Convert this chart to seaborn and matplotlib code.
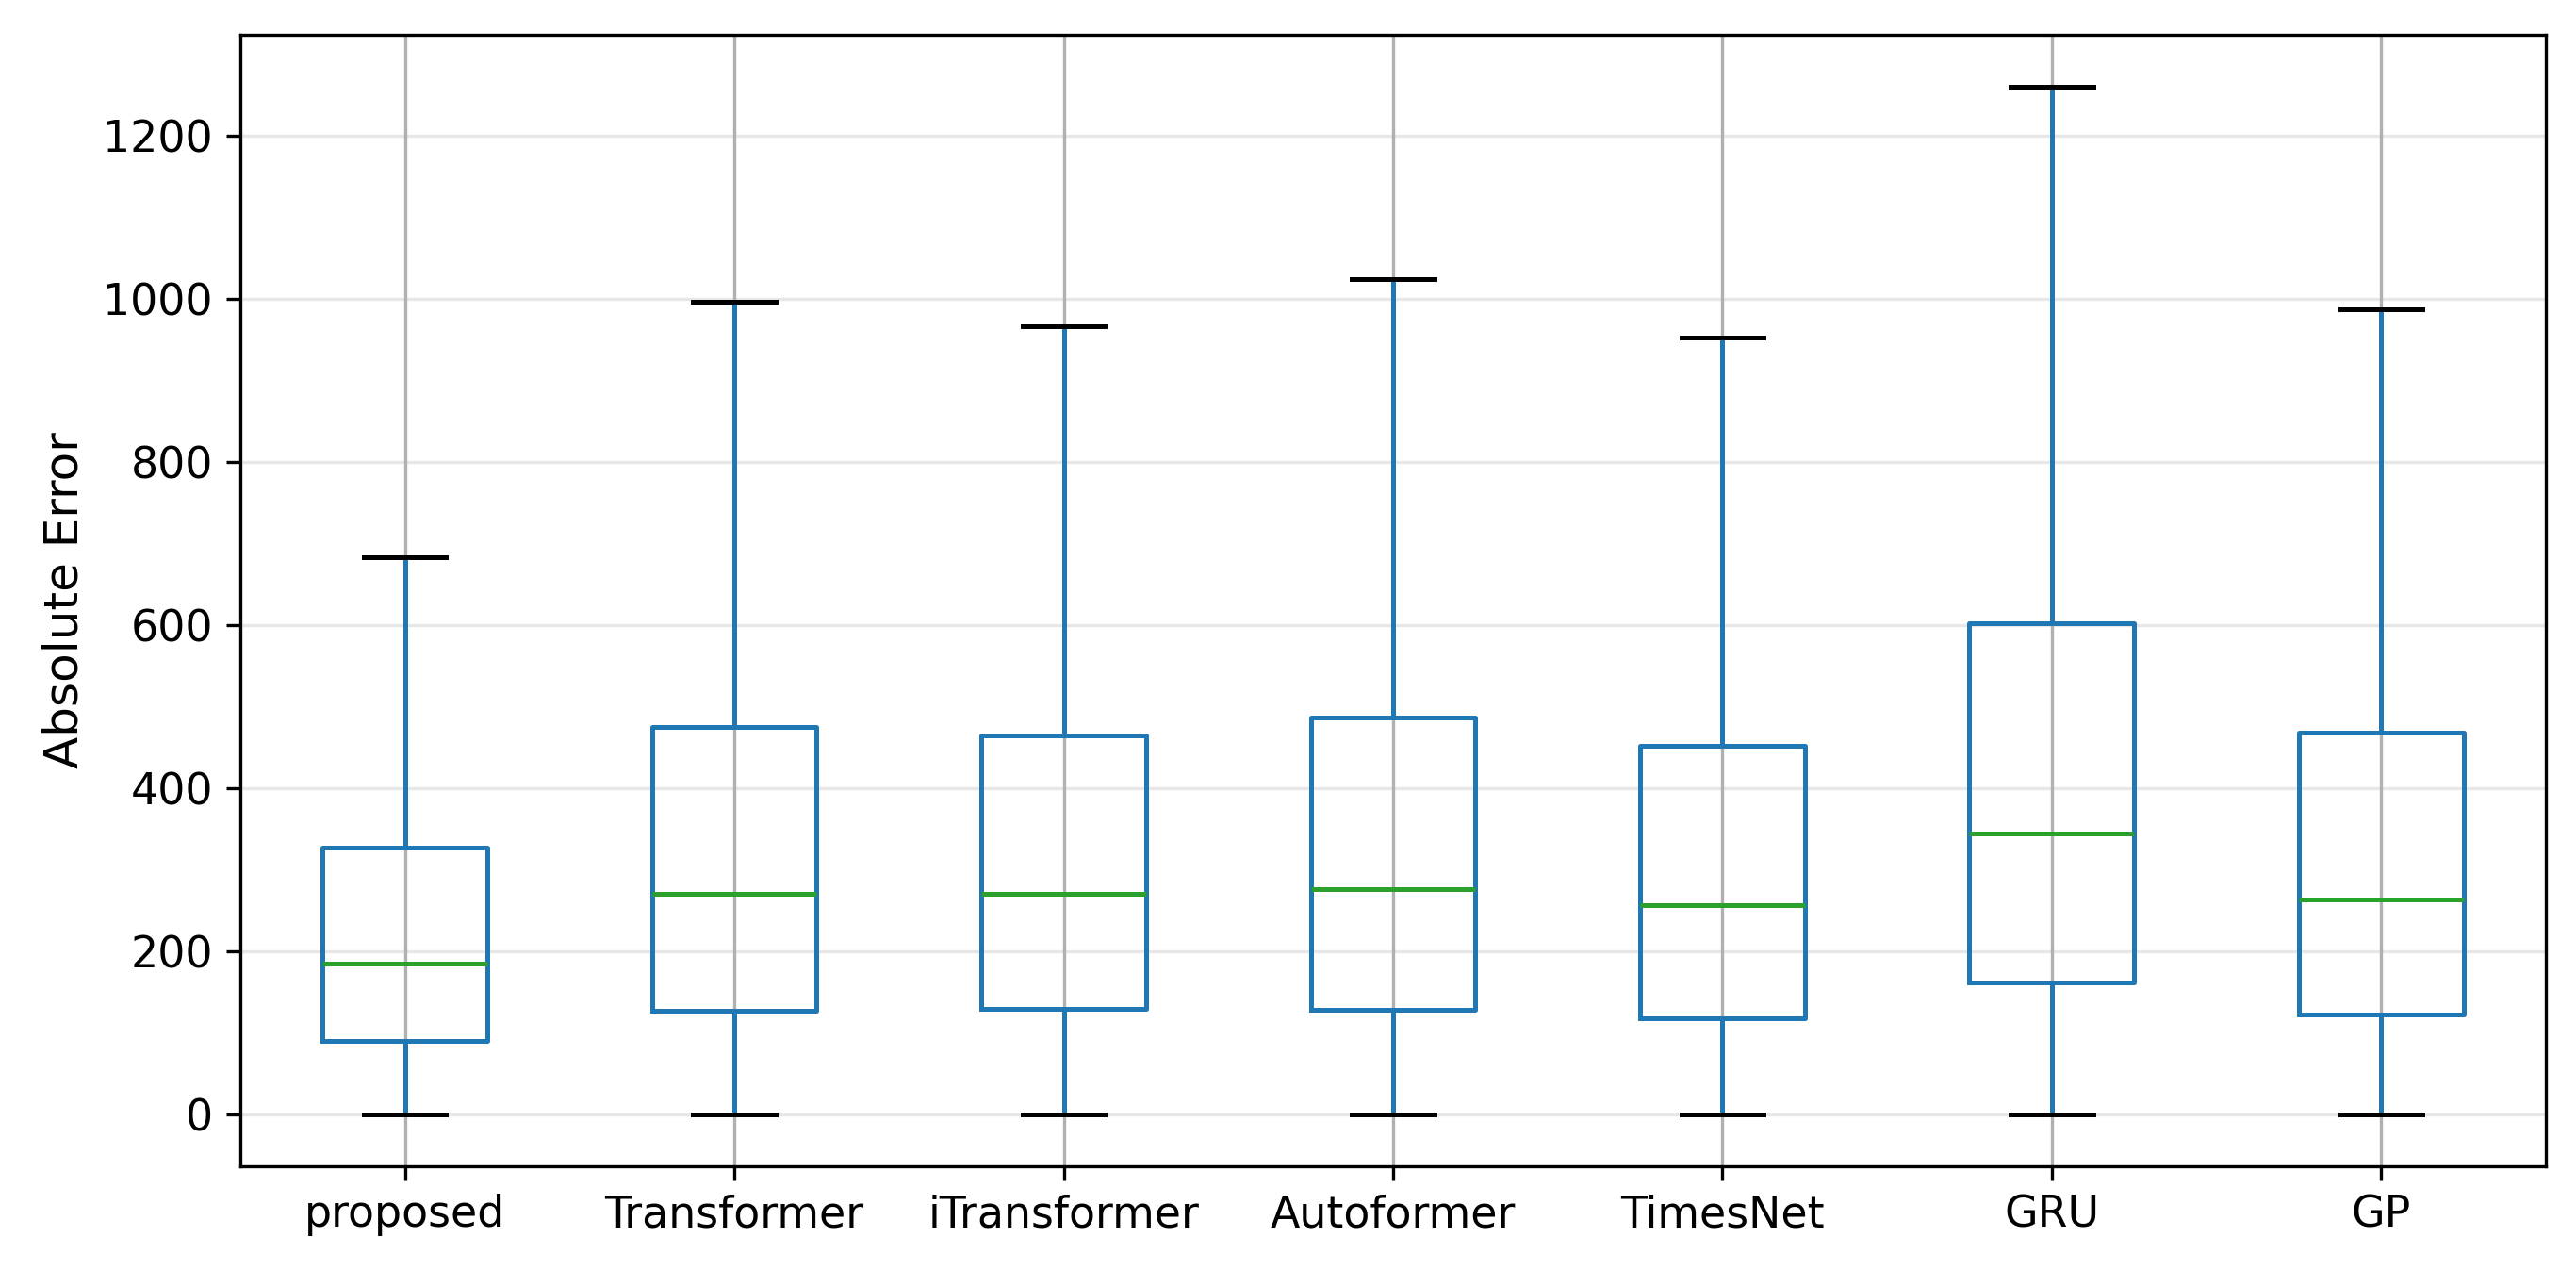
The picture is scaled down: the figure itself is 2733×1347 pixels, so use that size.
import numpy as np
import pandas as pd
import matplotlib
matplotlib.use("Agg")
import matplotlib.pyplot as plt
import seaborn as sns

models = ["proposed", "Transformer", "iTransformer", "Autoformer", "TimesNet", "GRU", "GP"]
whisker_low = [0, 0, 0, 0, 0, 0, 0]
q1 = [91, 128, 130, 129, 118, 162, 123]
median = [186, 271, 271, 277, 257, 345, 264]
q3 = [328, 475, 465, 487, 452, 602, 469]
whisker_high = [684, 997, 966, 1024, 953, 1260, 987]

# five summary values per model -> exact quartiles with linear percentiles
rows = []
for m, lo, a, md, b, hi in zip(models, whisker_low, q1, median, q3, whisker_high):
    for v in (lo, a, md, b, hi):
        rows.append({"model": m, "err": v})
df = pd.DataFrame(rows)

plt.rcParams["font.family"] = ["DejaVu Sans"]
fig = plt.figure(figsize=(2733 / 300, 1347 / 300), dpi=300)
ax = fig.add_axes([255 / 2733, 1 - 1237 / 1347, (2701 - 255) / 2733, (1237 - 37) / 1347])

blue = "#1f77b4"
lw = 1.2
sns.boxplot(
    data=df, x="model", y="err", order=models, ax=ax,
    fill=False, color=blue, width=0.5, whis=(0, 100), showfliers=False,
    linewidth=lw,
    boxprops=dict(color=blue, linewidth=lw),
    whiskerprops=dict(color=blue, linewidth=lw),
    capprops=dict(color="black", linewidth=lw),
    medianprops=dict(color="#2ca02c", linewidth=lw),
)

ax.set_xlim(-0.5, len(models) - 0.5)
ax.set_ylim(-63, 1323.6)
ax.set_yticks([0, 200, 400, 600, 800, 1000, 1200])
ax.set_axisbelow(True)
ax.xaxis.grid(True, color="#b0b0b0", linewidth=0.8)
ax.yaxis.grid(True, color="#b0b0b0", linewidth=0.8, alpha=0.3)
for s in ax.spines.values():
    s.set_visible(True)
    s.set_color("black")
    s.set_linewidth(0.8)
ax.tick_params(axis="both", labelsize=11, direction="out", length=3.5, width=0.8, colors="black")
ax.set_xlabel("")
ax.set_ylabel("Absolute Error", fontsize=12)

fig.savefig("out.png", dpi=300, facecolor="white")
